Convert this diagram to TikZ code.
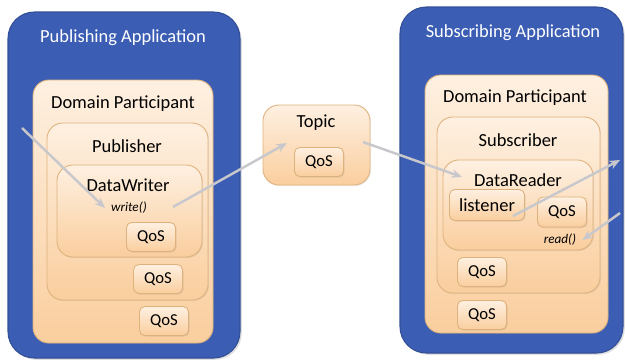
\documentclass[tikz,border=0pt]{standalone}
\usepackage{fontspec}
\setmainfont{Carlito}
\usetikzlibrary{shadows,arrows.meta}
\definecolor{appblue}{RGB}{59,93,180}
\definecolor{appedge}{RGB}{50,78,150}
\definecolor{peachtop}{RGB}{254,240,225}
\definecolor{peachbot}{RGB}{250,206,158}
\definecolor{peachline}{RGB}{222,178,125}
\definecolor{flowgray}{RGB}{200,200,204}
\tikzset{
  app/.style={fill=appblue, draw=appedge, line width=0.6pt, rounded corners=15pt,
    drop shadow={opacity=0.25, shadow xshift=1pt, shadow yshift=-1pt}},
  entity/.style={top color=peachtop, bottom color=peachbot, draw=peachline,
    line width=0.5pt, rounded corners=9pt,
    drop shadow={opacity=0.15, shadow xshift=0.6pt, shadow yshift=-0.6pt}},
  qosbox/.style={top color=peachtop, bottom color=peachbot, draw=peachline,
    line width=0.5pt, rounded corners=3pt, minimum width=0.98cm, minimum height=0.58cm,
    inner sep=0pt, font=\fontsize{9.5}{10}\selectfont,
    drop shadow={opacity=0.2, shadow xshift=0.6pt, shadow yshift=-0.6pt}},
  apptitle/.style={text=white, font=\fontsize{10.5}{12}\selectfont},
  title/.style={font=\fontsize{10.5}{12}\selectfont},
  call/.style={font=\itshape\fontsize{7.5}{9}\selectfont},
  flow/.style={draw=flowgray, line width=1.4pt, -{Stealth[length=6pt,width=5pt]}}
}
\begin{document}
\begin{tikzpicture}[x=0.02cm, y=-0.02cm]
    \useasboundingbox (0,0) rectangle (625,360);
    % Publishing side
    \path[app] (8,12) rectangle (240,358);
    \path[entity] (33,80) rectangle (213,343);
    \path[entity] (47,123) rectangle (208,300);
    \path[entity] (57,165) rectangle (202,257);
    \node[apptitle] (pubapp) at (123,38) {Publishing Application};
    \node[title] (pubdp) at (123,104) {Domain Participant};
    \node[title] (publisher) at (127,146) {Publisher};
    \node[title] (writer) at (128,185) {DataWriter};
    \node[call] (write) at (129,208) {write()};
    \node[qosbox] (wqos) at (151,237) {QoS};
    \node[qosbox] (pqos) at (158,279) {QoS};
    \node[qosbox] (pdqos) at (164,321) {QoS};
    % Topic
    \path[entity] (263,105) rectangle (370,185);
    \node[title] (topic) at (316,123) {Topic};
    \node[qosbox] (tqos) at (319,162) {QoS};
    % Subscribing side
    \path[app] (400,7) rectangle (623,353);
    \path[entity] (425,75) rectangle (608,333);
    \path[entity] (437,117) rectangle (600,293);
    \path[entity] (443,160) rectangle (593,250);
    \node[apptitle] (subapp) at (513,33) {Subscribing Application};
    \node[title] (subdp) at (515,98) {Domain Participant};
    \node[title] (subscriber) at (518,140) {Subscriber};
    \node[title] (reader) at (518,180) {DataReader};
    \node[qosbox, minimum width=1.5cm, minimum height=0.62cm, font=\fontsize{10.5}{12}\selectfont] (listener) at (487,205) {listener};
    \node[qosbox, minimum height=0.6cm] (rqos) at (562,212) {QoS};
    \node[call] (read) at (560,240) {read()};
    \node[qosbox] (sqos) at (482,272) {QoS};
    \node[qosbox] (sdqos) at (482,315) {QoS};
    % Flow
    \coordinate (datain) at (22,128);
    \coordinate (wout) at (173,207);
    \coordinate (tin) at (287,143);
    \coordinate (tout) at (363,142);
    \coordinate (rin) at (462,177);
    \coordinate (lout) at (513,216);
    \coordinate (notify) at (620,160);
    \coordinate (poll) at (620,213);
    \draw[flow] (datain) -- (write.west);
    \draw[flow] (wout) -- (tin);
    \draw[flow] (tout) -- (rin);
    \draw[flow] (lout) -- (notify);
    \draw[flow] (poll) -- (read.east);
\end{tikzpicture}
\end{document}
